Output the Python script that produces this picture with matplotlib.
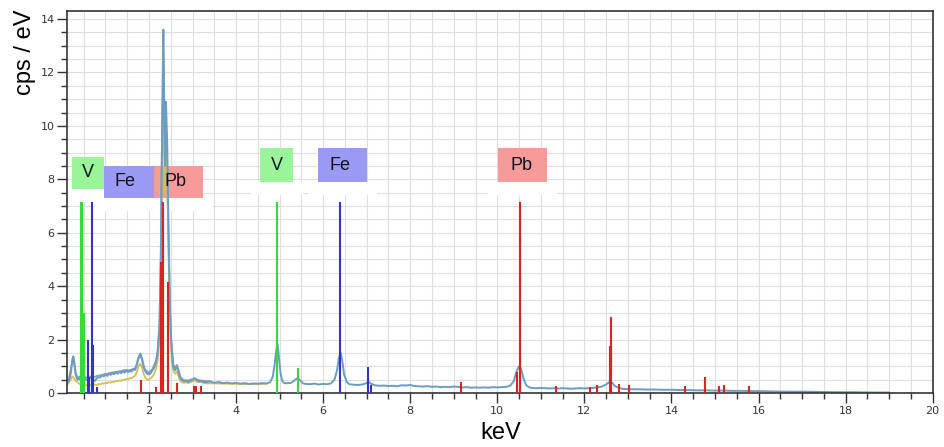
import numpy as np
import matplotlib.pyplot as plt
from matplotlib.patches import Rectangle
from matplotlib.ticker import MultipleLocator

# main spectrum (blue)
e_blue = [0.12, 0.16, 0.20, 0.24, 0.26, 0.28, 0.32, 0.36, 0.40, 0.44, 0.48, 0.52, 0.56, 0.60,
          0.64, 0.68, 0.72, 0.76, 0.80, 0.84, 0.88, 0.92, 0.96, 1.00, 1.04, 1.08, 1.12, 1.16,
          1.20, 1.24, 1.28, 1.32, 1.36, 1.40, 1.44, 1.48, 1.52, 1.56, 1.60, 1.64, 1.68, 1.72,
          1.76, 1.80, 1.84, 1.88, 1.92, 1.96, 2.00, 2.04, 2.08, 2.12, 2.16, 2.20, 2.24, 2.27,
          2.30, 2.32, 2.33, 2.35, 2.37, 2.39, 2.42, 2.45, 2.48, 2.52, 2.56, 2.60, 2.64, 2.68,
          2.72, 2.76, 2.80, 2.85, 2.90, 2.95, 3.00, 3.05, 3.10, 3.15, 3.20, 3.25, 3.30, 3.40,
          3.50, 3.60, 3.70, 3.80, 3.90, 4.00, 4.10, 4.20, 4.30, 4.40, 4.50, 4.60, 4.70, 4.78,
          4.84, 4.88, 4.92, 4.95, 4.98, 5.02, 5.06, 5.10, 5.15, 5.20, 5.25, 5.30, 5.36, 5.42,
          5.48, 5.54, 5.60, 5.70, 5.80, 5.90, 6.00, 6.10, 6.18, 6.26, 6.32, 6.36, 6.40, 6.44,
          6.48, 6.54, 6.60, 6.70, 6.80, 6.90, 6.98, 7.04, 7.10, 7.18, 7.30, 7.40, 7.50, 7.60,
          7.70, 7.80, 7.90, 8.00, 8.10, 8.20, 8.30, 8.40, 8.50, 8.60, 8.70, 8.80, 8.90, 9.00,
          9.10, 9.20, 9.30, 9.40, 9.50, 9.60, 9.70, 9.80, 9.90, 10.00, 10.10, 10.20, 10.30,
          10.38, 10.44, 10.50, 10.55, 10.60, 10.66, 10.72, 10.80, 10.90, 11.00, 11.10, 11.20,
          11.30, 11.40, 11.50, 11.60, 11.70, 11.80, 11.90, 12.00, 12.10, 12.20, 12.30, 12.40,
          12.50, 12.58, 12.64, 12.70, 12.78, 12.86, 12.95, 13.05, 13.20, 13.40, 13.60, 13.80,
          14.00, 14.20, 14.40, 14.60, 14.80, 15.00, 15.20, 15.40, 15.60, 15.80, 16.00, 16.30,
          16.60, 17.00, 17.40, 17.80, 18.20, 18.60, 19.00]
cps_blue = [0.40, 0.45, 0.70, 1.20, 1.35, 1.15, 0.65, 0.50, 0.55, 0.45, 0.60, 0.55, 0.50, 0.45,
            0.55, 0.60, 0.50, 0.45, 0.55, 0.60, 0.58, 0.66, 0.62, 0.70, 0.64, 0.72, 0.68, 0.74,
            0.70, 0.78, 0.72, 0.80, 0.74, 0.82, 0.76, 0.86, 0.78, 0.84, 0.80, 0.90, 0.86, 1.05,
            1.30, 1.45, 1.25, 0.95, 0.80, 0.72, 0.70, 0.74, 0.85, 0.95, 1.15, 1.50, 2.40, 4.90,
            9.50, 12.5, 13.6, 10.5, 8.50, 10.9, 9.20, 6.00, 3.20, 1.60, 0.95, 0.85, 1.00, 0.78,
            0.55, 0.48, 0.44, 0.46, 0.42, 0.47, 0.50, 0.56, 0.48, 0.44, 0.46, 0.42, 0.40, 0.43,
            0.38, 0.41, 0.37, 0.39, 0.36, 0.38, 0.35, 0.37, 0.34, 0.36, 0.35, 0.37, 0.36, 0.40,
            0.60, 1.00, 1.55, 1.85, 1.40, 0.75, 0.45, 0.38, 0.36, 0.38, 0.37, 0.42, 0.50, 0.56,
            0.46, 0.36, 0.34, 0.33, 0.35, 0.32, 0.34, 0.33, 0.36, 0.50, 0.85, 1.30, 1.52, 1.20,
            0.70, 0.42, 0.33, 0.31, 0.30, 0.32, 0.36, 0.42, 0.35, 0.29, 0.27, 0.28, 0.26, 0.27,
            0.25, 0.29, 0.28, 0.30, 0.26, 0.25, 0.24, 0.26, 0.23, 0.24, 0.22, 0.23, 0.22, 0.24,
            0.23, 0.21, 0.22, 0.20, 0.21, 0.20, 0.21, 0.20, 0.22, 0.21, 0.22, 0.23, 0.28,
            0.45, 0.80, 1.00, 0.90, 0.55, 0.30, 0.22, 0.19, 0.18, 0.19, 0.18, 0.17,
            0.18, 0.17, 0.18, 0.17, 0.16, 0.17, 0.18, 0.17, 0.18, 0.19, 0.21, 0.24,
            0.32, 0.42, 0.38, 0.26, 0.20, 0.16, 0.15, 0.14, 0.14, 0.13, 0.13, 0.12,
            0.12, 0.11, 0.11, 0.10, 0.10, 0.09, 0.09, 0.08, 0.08, 0.07, 0.07, 0.06,
            0.05, 0.05, 0.04, 0.03, 0.03, 0.02, 0.02]

# second spectrum (grey), low energy part
e_grey = [0.12, 0.16, 0.20, 0.24, 0.26, 0.28, 0.32, 0.36, 0.40, 0.48, 0.56, 0.64, 0.72, 0.80,
          0.88, 0.96, 1.04, 1.12, 1.20, 1.28, 1.36, 1.44, 1.52, 1.60, 1.68, 1.72, 1.76, 1.80,
          1.84, 1.88, 1.92, 2.00, 2.08, 2.16, 2.20, 2.24, 2.27, 2.30, 2.33, 2.36, 2.40, 2.45,
          2.50, 2.56, 2.60, 2.64, 2.68, 2.72, 2.80, 2.90, 3.00, 3.10, 3.20, 3.40]
cps_grey = [0.45, 0.55, 0.85, 1.25, 1.38, 1.20, 0.72, 0.58, 0.62, 0.60, 0.58, 0.62, 0.58, 0.64,
            0.66, 0.70, 0.72, 0.76, 0.78, 0.80, 0.82, 0.86, 0.84, 0.88, 0.92, 1.10, 1.35, 1.48,
            1.30, 1.00, 0.85, 0.76, 0.90, 1.20, 1.60, 2.60, 5.00, 9.80, 12.8, 10.2, 9.80, 5.50,
            2.20, 1.05, 0.95, 1.05, 0.85, 0.60, 0.48, 0.47, 0.52, 0.50, 0.46, 0.44]

# third spectrum (yellow), low energy part
e_yellow = [0.12, 0.16, 0.20, 0.24, 0.28, 0.32, 0.36, 0.40, 0.44, 0.48, 0.52, 0.56, 0.60, 0.64,
            0.68, 0.72, 0.76, 0.80, 0.84, 0.88, 0.92, 0.96, 1.00, 1.04, 1.08, 1.12, 1.16, 1.20,
            1.24, 1.28, 1.32, 1.36, 1.40, 1.44, 1.48, 1.52, 1.56, 1.60, 1.64, 1.68, 1.72, 1.76,
            1.80, 1.84, 1.88, 1.92, 1.96, 2.00, 2.04, 2.08, 2.12, 2.16, 2.20, 2.24, 2.27, 2.30,
            2.32, 2.33, 2.35, 2.37, 2.39, 2.42, 2.45, 2.48, 2.52, 2.56, 2.60, 2.64, 2.68, 2.72,
            2.76, 2.80, 2.85, 2.90, 2.95, 3.00, 3.05, 3.10, 3.20, 3.30, 3.50, 4.00, 4.50, 4.70]
cps_yellow = [0.30, 0.40, 0.50, 0.62, 0.55, 0.45, 0.40, 0.35, 0.30, 0.32, 0.28, 0.30, 0.26, 0.30,
              0.28, 0.30, 0.32, 0.30, 0.34, 0.32, 0.36, 0.35, 0.38, 0.37, 0.40, 0.39, 0.42, 0.41,
              0.45, 0.44, 0.47, 0.46, 0.50, 0.49, 0.53, 0.52, 0.56, 0.55, 0.60, 0.64, 0.78, 1.00,
              1.10, 0.95, 0.70, 0.56, 0.50, 0.50, 0.55, 0.62, 0.72, 0.90, 1.25, 2.00, 4.00, 8.00,
              10.5, 11.3, 9.00, 7.50, 9.50, 8.00, 5.00, 2.60, 1.30, 0.80, 0.72, 0.80, 0.62, 0.45,
              0.40, 0.38, 0.40, 0.37, 0.40, 0.44, 0.48, 0.42, 0.40, 0.36, 0.36, 0.34, 0.33, 0.34]

# element line markers
v_lines = [0.44, 0.46, 0.50, 0.51, 4.93, 4.95, 5.43]
v_heights = [7.15, 7.15, 2.35, 3.0, 3.6, 7.15, 0.95]
fe_lines = [0.61, 0.63, 0.68, 0.72, 0.80, 6.38, 7.03, 7.10]
fe_heights = [2.0, 0.6, 7.15, 1.8, 0.24, 7.15, 0.99, 0.3]
pb_lines = [1.82, 2.15, 2.28, 2.31, 2.44, 2.65, 3.03, 3.09, 3.19, 9.16, 10.45, 10.52, 11.35,
            12.14, 12.29, 12.60, 12.61, 12.79, 13.02, 14.30, 14.77, 15.10, 15.20, 15.78]
pb_heights = [0.49, 0.24, 4.9, 7.15, 4.17, 0.39, 0.25, 0.27, 0.25, 0.4, 0.78, 7.15, 0.25,
              0.22, 0.30, 1.76, 2.85, 0.33, 0.30, 0.27, 0.61, 0.27, 0.30, 0.28]

# label boxes: text, x0, x1, y0, y1, text x, colour
labels = [('V', 0.22, 0.97, 7.64, 8.84, 0.60, '#9af59a'),
          ('Fe', 0.97, 2.11, 7.31, 8.51, 1.45, '#9a9af5'),
          ('Pb', 2.11, 3.25, 7.31, 8.51, 2.62, '#f79a9a'),
          ('V', 4.56, 5.30, 7.91, 9.16, 4.93, '#9af59a'),
          ('Fe', 5.88, 7.01, 7.91, 9.16, 6.38, '#9a9af5'),
          ('Pb', 10.02, 11.15, 7.91, 9.16, 10.55, '#f79a9a')]

fig = plt.figure(figsize=(9.44, 4.47), dpi=100)
ax = fig.add_axes([0.071, 0.1208, 0.917, 0.8546])

for text, x0, x1, y0, y1, tx, col in labels:
    ax.add_patch(Rectangle((x0 - 0.23, y0 - 0.5), x1 - x0 + 0.46, 0.5,
                           facecolor='white', edgecolor='none', zorder=1))
    ax.add_patch(Rectangle((x0, y0), x1 - x0, y1 - y0, facecolor=col,
                           edgecolor='none', zorder=1.5))
    ax.text(tx, (y0 + y1) / 2, text, ha='center', va='center', fontsize=13,
            family='Liberation Sans', color='#111122', zorder=6)

ax.plot(e_grey, cps_grey, color='#8e9db0', linewidth=1.3, zorder=2)
ax.plot(e_yellow, cps_yellow, color='#d6bf55', linewidth=1.3, zorder=2.1)
ax.plot(e_blue, cps_blue, color='#6a9cc6', linewidth=1.4, zorder=2.2)

ax.vlines(v_lines, 0, v_heights, color='#3ad83a', linewidth=1.5, zorder=3)
ax.vlines(fe_lines, 0, fe_heights, color='#3434c4', linewidth=1.5, zorder=3)
ax.vlines(pb_lines, 0, pb_heights, color='#dc2222', linewidth=1.5, zorder=3)

ax.set_xlim(0.117, 20)
ax.set_ylim(0, 14.3)
ax.xaxis.set_major_locator(MultipleLocator(2))
ax.xaxis.set_minor_locator(MultipleLocator(0.5))
ax.yaxis.set_major_locator(MultipleLocator(2))
ax.yaxis.set_minor_locator(MultipleLocator(0.5))
ax.grid(True, which='both', color='#dedede', linewidth=0.8, zorder=0)
ax.set_axisbelow(True)
ax.tick_params(which='major', length=7, width=1, color='#333333', labelsize=8,
               labelcolor='#333333', pad=2)
ax.tick_params(which='minor', length=4, width=1, color='#333333')
ax.set_xticks([2, 4, 6, 8, 10, 12, 14, 16, 18, 20])
for s in ax.spines.values():
    s.set_color('#333333')
    s.set_linewidth(1.2)

fig.text(0.0265, 0.978, 'cps / eV', rotation=90, ha='center', va='top',
         fontsize=17, family='Liberation Sans')
fig.text(0.53, 0.031, 'keV', ha='center', va='center', fontsize=17,
         family='Liberation Sans')

fig.savefig('out.png', dpi=100)
